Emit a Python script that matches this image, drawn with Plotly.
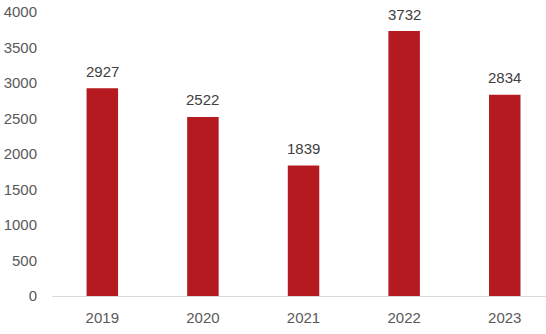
import plotly.graph_objects as go

years = ["2019", "2020", "2021", "2022", "2023"]
values = [2927, 2522, 1839, 3732, 2834]
y_ticks = [0, 500, 1000, 1500, 2000, 2500, 3000, 3500, 4000]

bar_color = "#B41A20"
font_family = "Liberation Sans, Arial, sans-serif"

fig = go.Figure()
fig.add_trace(go.Bar(
    x=years, y=values, marker_color=bar_color, marker_line_width=0,
    width=0.313,
))

for i, v in enumerate(values):
    fig.add_annotation(x=i, y=v, xref="x", yref="y", text=str(v), showarrow=False,
                       yshift=17, yanchor="middle",
                       font=dict(family=font_family, size=15, color="#404040"))

fig.update_layout(
    width=546, height=334,
    margin=dict(l=52, r=0, t=12, b=38),
    paper_bgcolor="white", plot_bgcolor="white",
    showlegend=False,
    font=dict(family=font_family, size=15, color="#595959"),
    xaxis=dict(
        type="category", range=[-0.5, 4.41],
        showgrid=False, showline=True, linecolor="#D9D9D9", linewidth=1,
        ticks="", ticklabelstandoff=8, zeroline=False,
        tickfont=dict(family=font_family, size=15, color="#595959"),
    ),
    yaxis=dict(
        range=[0, 4000], tickvals=y_ticks,
        showgrid=False, showline=False, zeroline=False, ticks="",
        ticklabelstandoff=14,
        tickfont=dict(family=font_family, size=15, color="#595959"),
    ),
)

fig.write_html("out.html")
